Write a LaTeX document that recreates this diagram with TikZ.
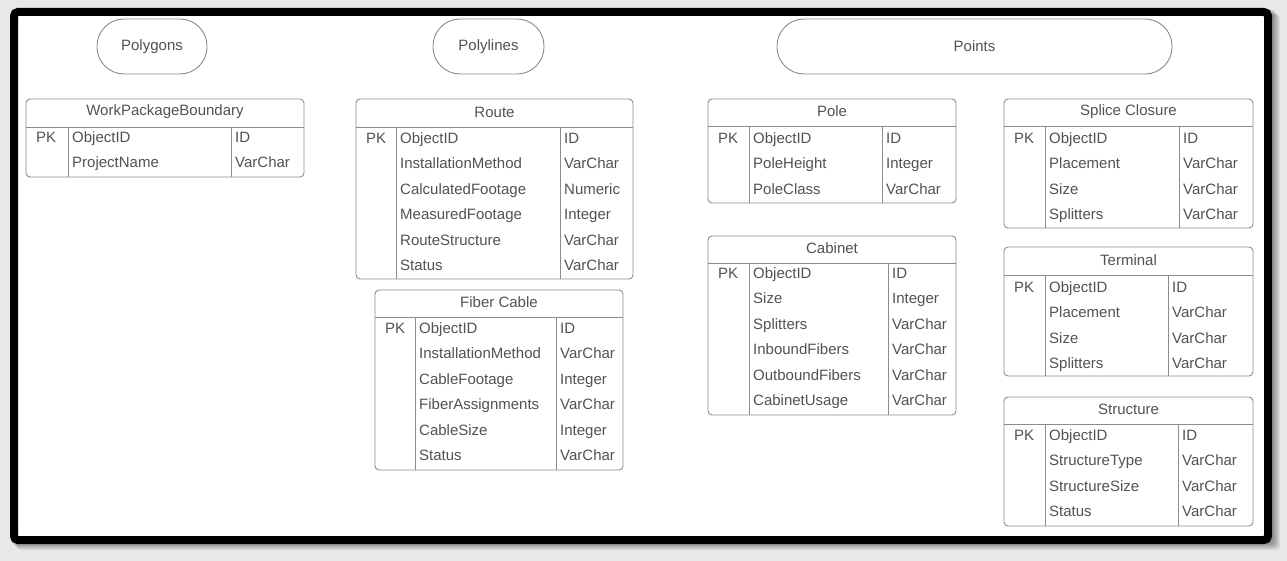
\documentclass[tikz,border=0pt]{standalone}
\usepackage{fontspec}
\setmainfont{Liberation Sans}
\definecolor{txt}{HTML}{525252}
\definecolor{ln}{HTML}{8C8C8C}
\definecolor{bg}{HTML}{E8E8E8}
\tikzset{
  tbl/.style={draw=ln, line width=0.9pt},
  ttl/.style={text=txt, font=\fontsize{15}{17}\selectfont, inner sep=0pt},
  fld/.style={text=txt, font=\fontsize{15}{17}\selectfont, inner sep=0pt, anchor=base west},
  pill/.style={draw=ln, line width=0.9pt, rounded corners=27pt, minimum height=55pt, text=txt, font=\fontsize{15}{17}\selectfont, inner sep=0pt},
}
% name, left, top, right, header line, bottom, div1, div2, title
\newcommand{\erframe}[9]{%
  \draw[tbl, rounded corners=4pt] (#2,#3) rectangle (#4,#6);
  \draw[tbl] (#2,#5) -- (#4,#5);
  \draw[tbl] (#7,#5) -- (#7,#6);
  \draw[tbl] (#8,#5) -- (#8,#6);
  \node[ttl] (#1-title) at ({(#2+#4)/2},{(#3+#5)/2-1}) {#9};
}
% name, left, div1, div2, first row y, list field/type
\newcommand{\errows}[6]{%
  \node[fld] (#1-pk) at ({#2+10},{#5+5.5}) {PK};
  \foreach \f/\t [count=\i from 0] in {#6} {
    \node[fld] (#1-f\i) at ({#3+4},{#5+5.5+\i*25.4}) {\f};
    \node[fld] (#1-t\i) at ({#4+4},{#5+5.5+\i*25.4}) {\t};
  }
}
\begin{document}
\begin{tikzpicture}[x=1pt, y=-1pt]
\fill[bg] (0,0) rectangle (1287,561);
\useasboundingbox (0,0) rectangle (1287,561);
% shadow
\foreach \k in {1,...,7} {
  \fill[black, opacity=0.06, rounded corners=4pt] ({10+\k},{8+\k}) rectangle ({1273+\k},{543+\k});
}
% frame
\draw[line width=8pt, fill=white, rounded corners=4pt] (14,12) rectangle (1268,540);

% pills
\node[pill, minimum width=110pt] (polygons) at (152,46.5) {Polygons};
\node[pill, minimum width=111pt] (polylines) at (488.5,46.5) {Polylines};
\node[pill, minimum width=395pt] (points) at (974.5,46.5) {Points};

% tables
\erframe{wpb}{26}{99}{304}{127}{177}{68}{231}{WorkPackageBoundary}
\errows{wpb}{26}{68}{231}{137}{ObjectID/ID, ProjectName/VarChar}

\erframe{route}{356}{99}{633}{127}{279}{396}{560}{Route}
\errows{route}{356}{396}{560}{138}{ObjectID/ID, InstallationMethod/VarChar, CalculatedFootage/Numeric, MeasuredFootage/Integer, RouteStructure/VarChar, Status/VarChar}

\erframe{fiber}{375}{290}{623}{317}{470}{415}{556}{Fiber Cable}
\errows{fiber}{375}{415}{556}{328}{ObjectID/ID, InstallationMethod/VarChar, CableFootage/Integer, FiberAssignments/VarChar, CableSize/Integer, Status/VarChar}

\erframe{pole}{708}{99}{956}{126}{203}{749}{882}{Pole}
\errows{pole}{708}{749}{882}{138}{ObjectID/ID, PoleHeight/Integer, PoleClass/VarChar}

\erframe{cabinet}{708}{236}{956}{263}{415}{749}{888}{Cabinet}
\errows{cabinet}{708}{749}{888}{273}{ObjectID/ID, Size/Integer, Splitters/VarChar, InboundFibers/VarChar, OutboundFibers/VarChar, CabinetUsage/VarChar}

\erframe{splice}{1004}{99}{1253}{126}{228}{1045}{1179}{Splice Closure}
\errows{splice}{1004}{1045}{1179}{138}{ObjectID/ID, Placement/VarChar, Size/VarChar, Splitters/VarChar}

\erframe{terminal}{1004}{247}{1253}{275}{376}{1045}{1168}{Terminal}
\errows{terminal}{1004}{1045}{1168}{287}{ObjectID/ID, Placement/VarChar, Size/VarChar, Splitters/VarChar}

\erframe{structure}{1004}{397}{1253}{424}{526}{1045}{1178}{Structure}
\errows{structure}{1004}{1045}{1178}{435}{ObjectID/ID, StructureType/VarChar, StructureSize/VarChar, Status/VarChar}
\end{tikzpicture}
\end{document}
